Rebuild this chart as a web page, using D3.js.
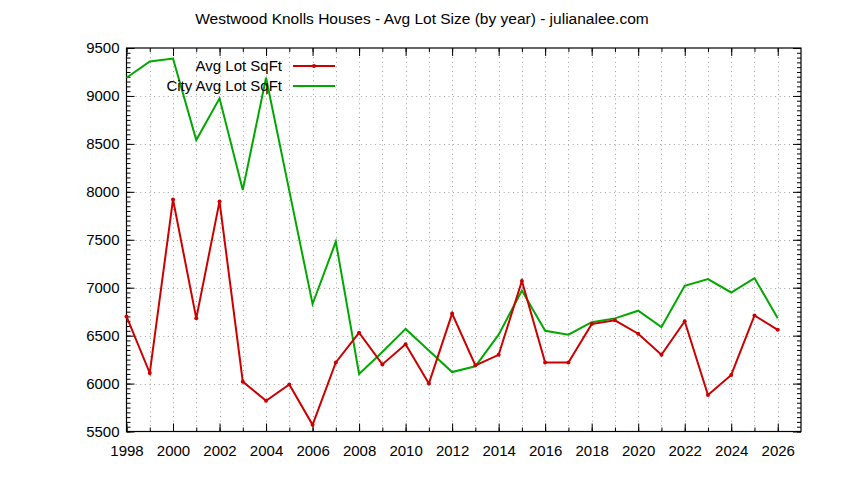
<!DOCTYPE html>
<html>
<head>
<meta charset="utf-8">
<script src="https://cdn.jsdelivr.net/npm/d3@7"></script>
<style>
  body { margin: 0; background: #fff; }
  svg text { font-family: "Liberation Sans", Arial, sans-serif; }
</style>
</head>
<body>
<div id="chart"></div>
<script>
// data
var years = d3.range(1998, 2027);
var avgLot = [6700, 6110, 7920, 6680, 7900, 6020, 5820, 5990, 5570, 6220,
	6530, 6200, 6410, 6000, 6730, 6190, 6300, 7070, 6220, 6220,
	6620, 6660, 6520, 6300, 6650, 5880, 6090, 6710, 6560];
var cityAvgLot = [9190, 9360, 9390, 8540, 8975, 8020, 9190, 8010, 6830, 7480,
	6100, 6330, 6570, 6345, 6120, 6180, 6510, 6970, 6550, 6510,
	6640, 6680, 6760, 6590, 7020, 7090, 6950, 7100, 6680];
var seriesNames = ['Avg Lot SqFt', 'City Avg Lot SqFt'];
var yTicks = [5500, 6000, 6500, 7000, 7500, 8000, 8500, 9000, 9500];
var xTickLabels = d3.range(1998, 2027, 2);
var title = 'Westwood Knolls Houses - Avg Lot Size (by year) - julianalee.com';

var width = 844, height = 480;
var plotLeft = 126.5, plotRight = 801, plotTop = 48, plotBottom = 431.5;
var red = '#cc0000', green = '#00a800';

var svg = d3.select('#chart')
	.append('svg')
	.attr('width', width)
	.attr('height', height);

var x = d3.scaleLinear().domain([1998, 2027]).range([plotLeft, plotRight]);
var y = d3.scaleLinear().domain([5500, 9500]).range([plotBottom, plotTop]);

//grid
var grid = svg.append('g')
	.attr('stroke', '#a0a0a0')
	.attr('stroke-width', 1)
	.attr('stroke-dasharray', '1,3.6');
grid.selectAll('.gy')
	.data(yTicks.slice(1, -1))
	.enter()
	.append('line')
	.attr('x1', plotLeft).attr('x2', plotRight)
	.attr('y1', function (d) { return Math.round(y(d)) + 0.5; })
	.attr('y2', function (d) { return Math.round(y(d)) + 0.5; });
grid.selectAll('.gx')
	.data(years.slice(1))
	.enter()
	.append('line')
	.attr('y1', plotTop).attr('y2', plotBottom)
	.attr('x1', function (d) { return Math.round(x(d)) + 0.5; })
	.attr('x2', function (d) { return Math.round(x(d)) + 0.5; });

//axes, gnuplot style ticks pointing inward
function styleAxis(g) {
	g.select('.domain').remove();
	g.selectAll('line').attr('stroke', '#000');
	g.selectAll('text').attr('font-size', 15).attr('fill', '#000');
}
var minorY = d3.range(5500, 9501, 50);
svg.append('g').attr('transform', 'translate(' + plotLeft + ',0)')
	.call(d3.axisLeft(y).tickValues(minorY).tickFormat('').tickSize(-4)).call(styleAxis);
svg.append('g').attr('transform', 'translate(' + plotRight + ',0)')
	.call(d3.axisRight(y).tickValues(minorY).tickFormat('').tickSize(-4)).call(styleAxis);
svg.append('g').attr('transform', 'translate(' + plotLeft + ',0)')
	.call(d3.axisLeft(y).tickValues(yTicks).tickFormat(d3.format('d')).tickSize(-8).tickPadding(7)).call(styleAxis);
svg.append('g').attr('transform', 'translate(' + plotRight + ',0)')
	.call(d3.axisRight(y).tickValues(yTicks).tickFormat('').tickSize(-8)).call(styleAxis);

svg.append('g').attr('transform', 'translate(0,' + plotBottom + ')')
	.call(d3.axisBottom(x).tickValues(years).tickFormat('').tickSize(-4)).call(styleAxis);
svg.append('g').attr('transform', 'translate(0,' + plotTop + ')')
	.call(d3.axisTop(x).tickValues(years).tickFormat('').tickSize(-4)).call(styleAxis);
svg.append('g').attr('transform', 'translate(0,' + plotBottom + ')')
	.call(d3.axisBottom(x).tickValues(xTickLabels).tickFormat(d3.format('d')).tickSize(-8).tickPadding(14)).call(styleAxis);
svg.append('g').attr('transform', 'translate(0,' + plotTop + ')')
	.call(d3.axisTop(x).tickValues(xTickLabels).tickFormat('').tickSize(-8)).call(styleAxis);

//border
svg.append('rect')
	.attr('x', plotLeft).attr('y', plotTop)
	.attr('width', plotRight - plotLeft).attr('height', plotBottom - plotTop)
	.attr('fill', 'none').attr('stroke', '#000').attr('stroke-width', 1.2);

//lines
var line = d3.line()
	.x(function (d, i) { return x(years[i]); })
	.y(function (d) { return y(d); });

svg.append('path').datum(cityAvgLot)
	.attr('d', line).attr('fill', 'none')
	.attr('stroke', green).attr('stroke-width', 2);
svg.append('path').datum(avgLot)
	.attr('d', line).attr('fill', 'none')
	.attr('stroke', red).attr('stroke-width', 2);
svg.append('g').selectAll('circle')
	.data(avgLot)
	.enter()
	.append('circle')
	.attr('cx', function (d, i) { return x(years[i]); })
	.attr('cy', function (d) { return y(d); })
	.attr('r', 2)
	.attr('fill', red);

//legend
var legend = svg.append('g');
var rows = legend.selectAll('g')
	.data(seriesNames)
	.enter()
	.append('g')
	.attr('transform', function (d, i) { return 'translate(0,' + (66 + i * 20) + ')'; });
rows.append('text')
	.attr('x', 282).attr('dy', '0.35em')
	.attr('text-anchor', 'end')
	.attr('font-size', 15)
	.text(function (d) { return d; });
rows.append('line')
	.attr('x1', 293).attr('x2', 335)
	.attr('stroke', function (d, i) { return i === 0 ? red : green; })
	.attr('stroke-width', 2);
legend.append('circle')
	.attr('cx', 314).attr('cy', 66).attr('r', 2).attr('fill', red);

//title
svg.append('text')
	.attr('x', width / 2).attr('y', 24)
	.attr('text-anchor', 'middle')
	.attr('font-size', 15.5)
	.text(title);
</script>
</body>
</html>
